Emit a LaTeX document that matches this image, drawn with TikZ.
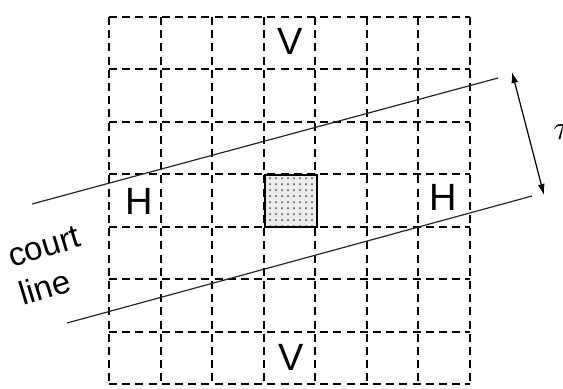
\documentclass[tikz,border=0pt]{standalone}
\usepackage{fontspec}
\setmainfont{Liberation Sans}
\usetikzlibrary{patterns,arrows.meta}

\tikzset{
  cellline/.style={line width=1pt, dash pattern=on 4pt off 2.6pt},
  courtline/.style={line width=0.6pt, black!85},
  letter/.style={font=\fontsize{19}{22}\selectfont, inner sep=0pt},
  shadecell/.style={draw, line width=1pt, minimum width=25.8pt, minimum height=26.2pt,
    inner sep=0pt, preaction={fill=gray!15}, pattern=dots, pattern color=black!70}
}

\begin{document}
\begin{tikzpicture}[x=0.5pt,y=-0.5pt]
\useasboundingbox (0,0) rectangle (563,388);
 \foreach \c in {0,...,7} {
  \draw[cellline] ({109+51.57*\c},17) -- ({109+51.57*\c},384);
  \draw[cellline] (109,{17+52.43*\c}) -- (470,{17+52.43*\c});
 }
 \node[shadecell] (cell) at (290.8,201.2) {};
 \begin{scope}[every node/.style={letter}]
  \node (vtop) at (290,41) {V};
  \node (hleft) at (139.5,201) {H};
  \node (hright) at (443,197) {H};
  \node (vbot) at (291,357) {V};
 \end{scope}
 \coordinate (up1) at (32,204);
 \coordinate (up2) at (498,78);
 \coordinate (lo1) at (67,323);
 \coordinate (lo2) at (532,196);
 \coordinate (w1) at (512,72);
 \coordinate (w2) at (544,195);
  \path [courtline] (up1) edge (up2);
  \path [courtline] (lo1) edge (lo2);
  \path [line width=0.6pt, {Latex[length=5.5pt,width=3.5pt]}-{Latex[length=5.5pt,width=3.5pt]}] (w1) edge (w2);
 \node (tau) [anchor=west, inner sep=0pt, font=\fontsize{16}{18}\selectfont] at (553,132) {$\tau$};
 \node (label) [rotate=17, align=left, inner sep=0pt, font=\fontsize{16.5}{20}\selectfont] at (50,266) {court\\line};
\end{tikzpicture}
\end{document}
